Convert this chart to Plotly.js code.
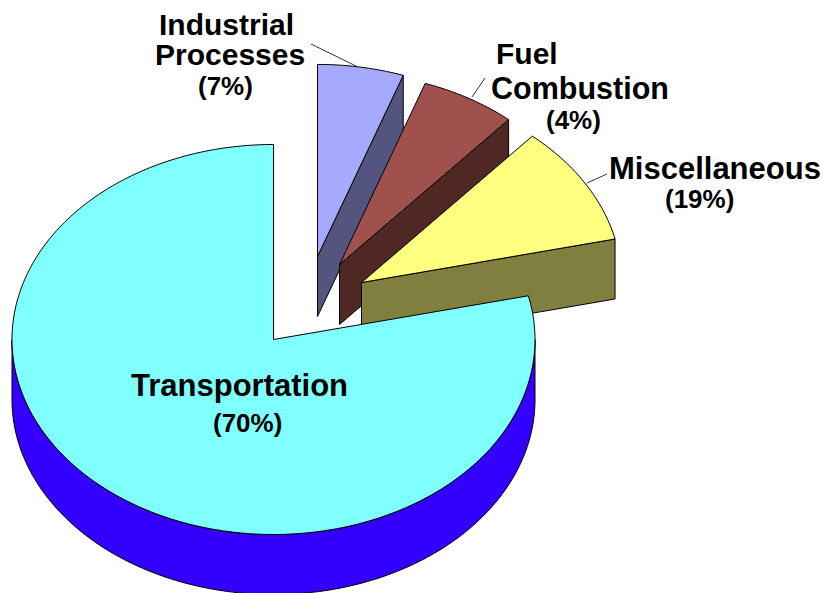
<!DOCTYPE html>
<html>
<head>
<meta charset="utf-8">
<script src="https://cdn.plot.ly/plotly-3.0.1.min.js"></script>
<style>html,body{margin:0;padding:0;background:#fff}#chart{width:823px;height:593px}</style>
</head>
<body>
<div id="chart"></div>
<script>
// Data: slices in the drawing order, clockwise from 12 o'clock
var categories = ["Industrial Processes", "Fuel Combustion", "Miscellaneous", "Transportation"];
var statedPercent = [7, 4, 19, 70];            // printed on the labels
var drawnShare = [5.4, 6.0, 10.0, 78.6];       // share of the circle each slice occupies in the picture

// Styles and geometry
var topColors = ["#a6aaff", "#a0504d", "#ffff80", "#80ffff"];
var wallColors = ["#53557f", "#4f2723", "#807f40", "#3300ff"];
var explodeX = [44, 66, 88, 0];
var explodeY = [-83, -75, -57, 0];
var radiusScale = [0.985, 0.985, 0.995, 1];
var cx = 273.5, cy = 339.5, rx = 261.5, ry = 195, depth = 60;

function pt(i, deg, dz) {
  var a = deg * Math.PI / 180;
  return [cx + explodeX[i] + rx * radiusScale[i] * Math.sin(a),
          cy + explodeY[i] - ry * radiusScale[i] * Math.cos(a) + (dz || 0)];
}
function poly(points, fill) {
  return {
    type: "scatter", mode: "lines", hoverinfo: "skip", showlegend: false,
    x: points.map(function (p) { return p[0]; }),
    y: points.map(function (p) { return p[1]; }),
    fill: fill ? "toself" : "none", fillcolor: fill || undefined,
    line: { color: fill ? "#000000" : "#333333", width: 1, simplify: false }
  };
}
function arc(i, from, to, dz) {
  var out = [], n = Math.max(8, Math.ceil(Math.abs(to - from)));
  for (var k = 0; k <= n; k++) out.push(pt(i, from + (to - from) * k / n, dz));
  return out;
}

var traces = [], start = 0;
categories.forEach(function (name, i) {
  var end = start + drawnShare[i] * 3.6;
  var apex = [cx + explodeX[i], cy + explodeY[i]];
  if (end < 180) {
    // flat cut face visible on the trailing edge of the upper-right slices
    traces.push(poly([apex, pt(i, end), pt(i, end, depth), [apex[0], apex[1] + depth], apex], wallColors[i]));
  } else {
    // curved outer wall on the front half
    var wall = arc(i, 90, 270, 0).concat(arc(i, 270, 90, depth));
    wall.push(wall[0]);
    traces.push(poly(wall, wallColors[i]));
  }
  // top face
  var top = [apex].concat(arc(i, start, end, 0));
  top.push(apex);
  traces.push(poly(top, topColors[i]));
  start = end;
});

// Leader lines
var leaderX = [[311, 358], [485, 472], [607, 587]];
var leaderY = [[44, 67], [78, 97], [174, 183]];
leaderX.forEach(function (xs, i) {
  traces.push(poly(xs.map(function (x, k) { return [x, leaderY[i][k]]; }), null));
});

// Labels
var labelLines = ["Industrial", "Processes", "(" + statedPercent[0] + "%)",
                  "Fuel", "Combustion", "(" + statedPercent[1] + "%)",
                  "Miscellaneous", "(" + statedPercent[2] + "%)",
                  "Transportation", "(" + statedPercent[3] + "%)"];
var labelX = [226, 229.5, 225, 527, 579.5, 573, 715, 699, 239.5, 247.5];
var labelY = [24, 54, 86, 53, 88, 120, 168, 199, 385, 423];
var labelSize = [30, 30, 26, 30, 30.5, 26, 31, 26, 31, 26];

var annotations = labelLines.map(function (t, i) {
  return {
    text: "<b>" + t + "</b>", x: labelX[i], y: labelY[i], xref: "x", yref: "y",
    showarrow: false, xanchor: "center", yanchor: "middle",
    font: { family: "Liberation Sans, Arial, sans-serif", size: labelSize[i], color: "#000" }
  };
});

Plotly.newPlot("chart", traces, {
  width: 823, height: 593,
  margin: { l: 0, r: 0, t: 0, b: 0 },
  paper_bgcolor: "#ffffff", plot_bgcolor: "#ffffff",
  showlegend: false,
  xaxis: { range: [0, 823], visible: false, fixedrange: true },
  yaxis: { range: [593, 0], visible: false, fixedrange: true },
  annotations: annotations
}, { displayModeBar: false, staticPlot: true });
</script>
</body>
</html>
